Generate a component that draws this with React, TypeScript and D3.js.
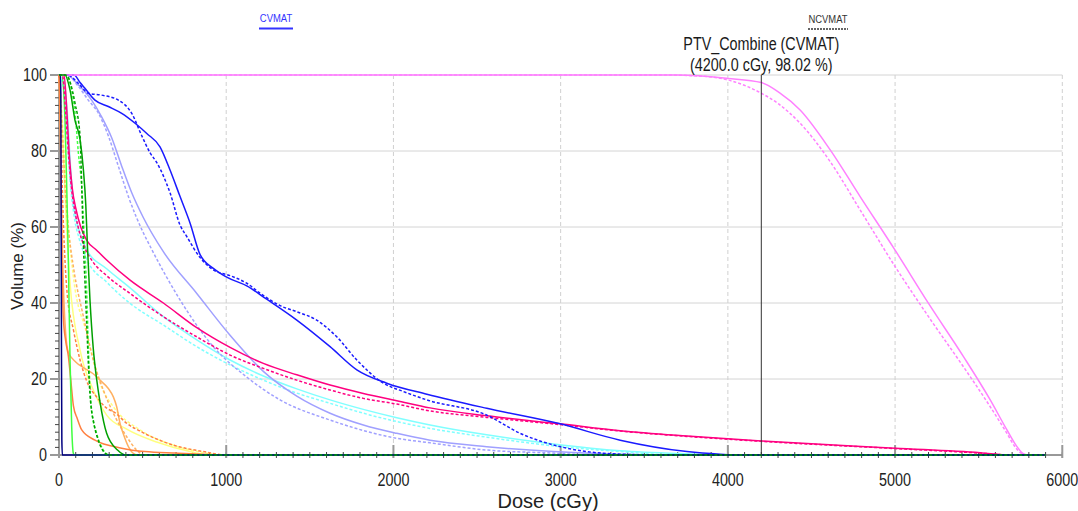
import React from "react";
import * as d3 from "d3";

type Pt = [number, number];

// dose (cGy), volume (%)
const ptvCvmat: Pt[] = [[0,100],[3700,100],[4000,99.1],[4200,98.02],[4310,95.3],[4432,90.8],[4612,80.3],[4791,68],[5000,53.9],[5200,39.9],[5409,25.9],[5569,14.5],[5669,6.6],[5729,2.2],[5769,0.3],[5800,0],[5900,0]];
const ptvNcvmat: Pt[] = [[0,100],[3600,100],[3800,99.8],[4000,98.7],[4200,95.2],[4300,92.5],[4432,87.3],[4612,77.2],[4791,64.5],[5000,49.6],[5200,36.4],[5409,23.2],[5569,12.7],[5669,5.7],[5720,2],[5760,0.3],[5790,0],[5900,0]];
const blueCvmat: Pt[] = [[0,100],[90,100],[126,98],[155,96.5],[215,93.4],[295,91.7],[375,89.9],[455,87.3],[525,84.6],[604,81.1],[664,75],[724,68],[784,61],[843,52.8],[923,49.1],[1003,46.8],[1123,44.5],[1242,41],[1422,35.5],[1621,28.5],[1781,22.4],[1960,18.9],[2200,16],[2558,12.3],[2997,8.2],[3356,3.9],[3755,0.9],[3954,0.2],[4050,0],[5900,0]];
const blueNcvmat: Pt[] = [[0,100],[50,100],[116,97.8],[175,95.2],[255,94.7],[355,93.4],[435,89.9],[495,84],[545,79.5],[584,77],[664,69],[724,60.5],[764,57.5],[843,52],[923,48.7],[1023,47.2],[1123,45.2],[1202,42.6],[1322,39.3],[1422,37.7],[1541,35.5],[1661,31.1],[1781,25],[1940,18.9],[2060,16.7],[2200,14.5],[2558,10.5],[2758,5.7],[2997,2.2],[3276,0.4],[3600,0],[5900,0]];
const lavCvmat: Pt[] = [[0,100],[46,100],[116,97.4],[195,93.4],[255,89],[315,83.5],[375,76],[435,69],[504,62.5],[624,53.5],[824,42.5],[1023,31.5],[1222,22],[1422,15.5],[1621,11],[1820,7.9],[2020,5.7],[2219,3.9],[2558,2.2],[2957,0.9],[3356,0.2],[3600,0],[5900,0]];
const lavNcvmat: Pt[] = [[0,100],[46,100],[116,97],[175,93.4],[235,90],[295,84],[355,76],[415,68],[504,58.5],[544,55],[724,40.8],[923,28.5],[1123,20.5],[1322,14.5],[1621,9.2],[2020,4.4],[2219,3.2],[2558,1.3],[2957,0.5],[3200,0],[5900,0]];
const crimCvmat: Pt[] = [[0,100],[30,100],[45,92],[60,80],[80,70],[100,65],[130,60],[166,56.5],[225,53.9],[285,51.3],[425,46],[624,40],[824,33.5],[1023,28.3],[1222,24.1],[1422,21.1],[1621,18.4],[1820,16.2],[2020,14.3],[2219,12.4],[2558,10.3],[2997,8.2],[3356,6.4],[3755,5],[4200,3.7],[5000,1.8],[5509,0.6],[5690,0],[5900,0]];
const crimNcvmat: Pt[] = [[0,100],[20,100],[40,90],[55,80],[75,70],[100,63],[150,55],[200,51],[285,47.2],[425,42.5],[624,36.4],[824,31.1],[1023,26.3],[1222,22.8],[1422,19.7],[1621,17.1],[1820,14.9],[2020,13.4],[2219,11.6],[2558,9.9],[2997,8],[3356,6.3],[3755,4.9],[4200,3.6],[5000,1.7],[5509,0.5],[5680,0],[5900,0]];
const cyanCvmat: Pt[] = [[0,100],[30,98],[50,90],[70,75],[90,65],[120,59],[166,54],[285,49],[425,44],[624,36.4],[824,30.3],[1023,25],[1222,20.8],[1422,17.4],[1621,14.5],[1820,12],[2020,9.8],[2219,7.9],[2558,5.3],[2957,2.9],[3356,1.1],[3755,0.3],[4000,0],[5900,0]];
const cyanNcvmat: Pt[] = [[0,100],[25,97],[45,88],[65,73],[90,63],[120,57],[166,51.5],[285,45.5],[425,39.9],[624,34.2],[824,28.5],[1023,23.7],[1222,19.7],[1422,16.3],[1621,13.6],[1820,11],[2020,8.8],[2219,7],[2558,4.7],[2957,2.4],[3356,0.9],[3700,0],[5900,0]];
const greenCvmat: Pt[] = [[0,100],[36,100],[66,96],[96,88],[126,83],[146,75],[160,66],[170,55],[185,41],[205,28],[225,20],[245,14],[285,5.7],[350,1.3],[400,0],[5900,0]];
const greenNcvmat: Pt[] = [[0,100],[40,100],[96,92.5],[126,83.8],[136,70.6],[146,55],[156,45],[166,34],[185,16.2],[210,8],[235,3.9],[275,0.5],[300,0],[5900,0]];
const limeCvmat: Pt[] = [[0,100],[15,100],[36,88],[46,71],[56,51],[66,25],[76,7.4],[86,0.4],[95,0],[5900,0]];
const limeNcvmat: Pt[] = [[0,100],[45,100],[76,96],[96,90],[116,79.4],[136,70.6],[151,57.4],[166,42.5],[175,29.4],[185,18],[195,11.8],[225,5.7],[265,1.3],[300,0],[5900,0]];
const orangeCvmat: Pt[] = [[0,100],[5,95],[10,80],[15,60],[20,45],[26,36],[40,30],[56,26],[70,20],[86,13],[110,9.5],[136,6.6],[215,3.9],[375,1.8],[514,0.9],[700,0.5],[863,0.2],[1000,0],[5900,0]];
const orangeNcvmat: Pt[] = [[0,100],[10,90],[20,70],[36,51],[50,42],[86,33],[126,25],[175,18.5],[225,15.3],[275,12.7],[345,10.8],[400,8.5],[484,6.3],[684,2.6],[863,0.9],[1000,0],[5900,0]];
const amberCvmat: Pt[] = [[0,100],[10,80],[20,55],[30,40],[40,32],[56,27],[100,24.5],[146,23],[215,21],[245,19.7],[295,17.5],[325,15.3],[345,12.7],[365,8.3],[385,5.5],[415,2.2],[440,0.6],[470,0],[5900,0]];
const amberNcvmat: Pt[] = [[0,100],[20,85],[40,68],[60,58],[86,49.5],[146,36.4],[205,25],[265,17.1],[325,11],[405,4.8],[465,1.3],[510,0],[5900,0]];
const yellowCvmat: Pt[] = [[0,100],[15,90],[30,75],[45,60],[66,45.2],[126,27.6],[205,17.1],[285,10.5],[405,6.8],[584,3.4],[784,0.9],[900,0],[5900,0]];
const yellowNcvmat: Pt[] = [[0,100],[20,88],[40,72],[60,58],[86,46.9],[166,32],[245,18.9],[325,12.7],[484,6.6],[684,2.6],[880,0.5],[950,0],[5900,0]];
const navyCvmat: Pt[] = [[0,100],[8,100],[11,95],[13,60],[15,25],[17,4],[20,0],[5900,0]];

const xTicks = [0, 1000, 2000, 3000, 4000, 5000, 6000];
const yTicks = [0, 20, 40, 60, 80, 100];
const cursorDose = 4200;
const cursorLabel = ["PTV_Combine (CVMAT)", "(4200.0 cGy, 98.02 %)"];

const series: { data: Pt[]; color: string; dashed: boolean }[] = [
  { data: yellowCvmat, color: "#ffff80", dashed: false },
  { data: yellowNcvmat, color: "#ffff80", dashed: true },
  { data: cyanCvmat, color: "#80ffff", dashed: false },
  { data: cyanNcvmat, color: "#80ffff", dashed: true },
  { data: lavCvmat, color: "#a0a0ff", dashed: false },
  { data: lavNcvmat, color: "#a0a0ff", dashed: true },
  { data: amberCvmat, color: "#ffb060", dashed: false },
  { data: amberNcvmat, color: "#ffb060", dashed: true },
  { data: orangeCvmat, color: "#ff8040", dashed: false },
  { data: orangeNcvmat, color: "#ff8040", dashed: true },
  { data: limeCvmat, color: "#40ff40", dashed: false },
  { data: limeNcvmat, color: "#40ff40", dashed: true },
  { data: crimCvmat, color: "#ff0080", dashed: false },
  { data: crimNcvmat, color: "#ff0080", dashed: true },
  { data: blueCvmat, color: "#1a1aff", dashed: false },
  { data: blueNcvmat, color: "#1a1aff", dashed: true },
  { data: ptvCvmat, color: "#ff80ff", dashed: false },
  { data: ptvNcvmat, color: "#ff80ff", dashed: true },
  { data: greenCvmat, color: "#00a000", dashed: false },
  { data: navyCvmat, color: "#000080", dashed: false },
  { data: greenNcvmat, color: "#00a000", dashed: true },
];

const FONT = "'Liberation Sans', Arial, sans-serif";

// narrow text: the original uses a condensed face, so squeeze horizontally
function NText(props: {
  x: number;
  y: number;
  size: number;
  anchor?: "start" | "middle" | "end";
  fill?: string;
  sx?: number;
  central?: boolean;
  children: React.ReactNode;
}) {
  const { x, y, size, anchor = "middle", fill = "#222", sx = 0.82, central, children } = props;
  return (
    <text
      transform={`translate(${x},${y}) scale(${sx},1)`}
      textAnchor={anchor}
      fontSize={size}
      fill={fill}
      dominantBaseline={central ? "central" : undefined}
    >
      {children}
    </text>
  );
}

export default function App() {
  const width = 1078;
  const height = 511;

  const x = d3.scaleLinear().domain([0, 6000]).range([59, 1062.3]);
  const y = d3.scaleLinear().domain([0, 100]).range([455, 75]);

  const line = d3
    .line<Pt>()
    .x((d) => x(d[0]))
    .y((d) => y(d[1]))
    .curve(d3.curveMonotoneX);

  const minorX = d3.range(0, 6001, 100);
  const minorY = d3.range(0, 101, 2);

  return (
    <svg
      width={width}
      height={height}
      style={{ position: "absolute", left: 0, top: 0, background: "#fff" }}
      fontFamily={FONT}
    >
      {/* grid */}
      {yTicks.filter((t) => t > 0).map((t) => (
        <line key={"gy" + t} x1={x(0)} x2={x(6000)} y1={y(t)} y2={y(t)} stroke="#d4d4d4" strokeWidth={1} />
      ))}
      {xTicks.filter((t) => t > 0).map((t) => (
        <line key={"gx" + t} x1={x(t)} x2={x(t)} y1={y(100)} y2={y(0)} stroke="#d0d0d0" strokeWidth={1} strokeDasharray="4,3" />
      ))}

      {/* axes */}
      <line x1={x(0)} x2={x(6000)} y1={y(0)} y2={y(0)} stroke="#333" strokeWidth={1} />
      <line x1={x(0)} x2={x(0)} y1={y(0)} y2={y(100)} stroke="#333" strokeWidth={1} />
      {minorX.map((t) => (
        <line key={"mx" + t} x1={x(t)} x2={x(t)} y1={y(0) - 3} y2={y(0) + 3} stroke="#444" strokeWidth={1} />
      ))}
      {xTicks.map((t) => (
        <line key={"tx" + t} x1={x(t)} x2={x(t)} y1={y(0) - 10} y2={y(0) + 3} stroke="#999" strokeWidth={2} />
      ))}
      {minorY.map((t) => (
        <line key={"my" + t} x1={x(0) - 4} x2={x(0)} y1={y(t)} y2={y(t)} stroke="#444" strokeWidth={1} />
      ))}
      {yTicks.map((t) => (
        <line key={"ty" + t} x1={x(0) - 9} x2={x(0)} y1={y(t)} y2={y(t)} stroke="#999" strokeWidth={2} />
      ))}

      {/* tick labels */}
      {xTicks.map((t) => (
        <NText key={"lx" + t} x={x(t)} y={486} size={17.5}>
          {t}
        </NText>
      ))}
      {yTicks.map((t) => (
        <NText key={"ly" + t} x={47} y={y(t)} size={17.5} anchor="end" central>
          {t}
        </NText>
      ))}

      {/* axis titles */}
      <text x={548} y={508} textAnchor="middle" fontSize={20} fill="#222">
        Dose (cGy)
      </text>
      <text transform={`translate(23, 266) rotate(-90)`} textAnchor="middle" fontSize={17} fill="#222">
        Volume (%)
      </text>

      {/* series */}
      {series.map((s, i) => (
        <path
          key={"s" + i}
          d={line(s.data) ?? ""}
          fill="none"
          stroke={s.color}
          strokeWidth={1.5}
          strokeDasharray={s.dashed ? "3,2" : undefined}
        />
      ))}

      {/* cursor */}
      <line x1={x(cursorDose)} x2={x(cursorDose)} y1={y(100)} y2={y(0)} stroke="#333" strokeWidth={1} />
      <NText x={x(cursorDose)} y={50} size={17.5} fill="#1a1a1a">
        {cursorLabel[0]}
      </NText>
      <NText x={x(cursorDose)} y={71} size={17.5} fill="#1a1a1a">
        {cursorLabel[1]}
      </NText>

      {/* legend */}
      <NText x={276} y={22} size={11.5} fill="#3333ff">
        CVMAT
      </NText>
      <line x1={259} x2={293} y1={28.5} y2={28.5} stroke="#3333ff" strokeWidth={2} />
      <NText x={828} y={22.5} size={11.5} fill="#333">
        NCVMAT
      </NText>
      <line x1={808} x2={848} y1={29} y2={29} stroke="#333" strokeWidth={1.5} strokeDasharray="2,1" />
    </svg>
  );
}
